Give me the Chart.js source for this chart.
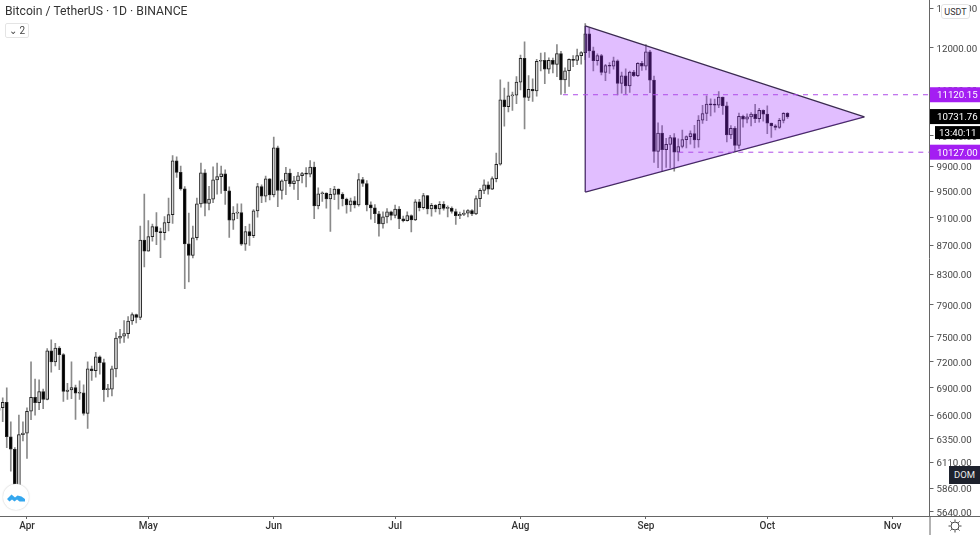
<!DOCTYPE html>
<html>
<head>
<meta charset="utf-8">
<title>Bitcoin / TetherUS</title>
<script src="https://cdn.jsdelivr.net/npm/chart.js@4/dist/chart.umd.min.js"></script>
<style>
  html, body { margin: 0; padding: 0; background: #fff; overflow: hidden; }
  #wrap { position: relative; width: 980px; height: 535px; font-family: Roboto, sans-serif; filter: blur(0.45px); }
  canvas { position: absolute; left: 0; top: 0; }
  .title { position: absolute; left: 5px; top: 3px; font-size: 12.2px; line-height: 17px; color: #333; white-space: nowrap; }
  .badge { position: absolute; left: 5px; top: 23px; width: 24px; height: 15px; box-sizing: border-box; border: 1px solid #e4e4e4; border-radius: 2px; font-size: 10px; line-height: 13px; color: #444; text-align: center; }
  .usdt { position: absolute; left: 941px; top: 4px; width: 29px; height: 15px; box-sizing: border-box; background: #fff; border: 1px solid #e4e4e4; border-radius: 3px; font-size: 9px; line-height: 14px; color: #333; text-align: center; }
  .dom { position: absolute; left: 949px; top: 466px; width: 31px; height: 18px; background: #1e222d; color: #e8e8e8; font-size: 9.5px; line-height: 18px; text-align: center; }
  .logo { position: absolute; left: 3px; top: 484px; width: 26px; height: 26px; border-radius: 50%; background: #fff; box-shadow: 0 0 1.5px #bbb; }
  .gear { position: absolute; left: 948px; top: 519px; }
</style>
</head>
<body>
<div id="wrap">
  <canvas id="chart" width="980" height="535"></canvas>
  <div class="title">Bitcoin / TetherUS · 1D · BINANCE</div>
  <div class="badge">⌄ 2</div>
  <div class="usdt">USDT</div>
  <div class="dom">DOM</div>
  <div class="logo">
    <svg width="26" height="26" viewBox="0 0 26 26"><path d="M4 15 l4.500-4.500 l3.500 3 l2.500-2 l4 1 l3.500 2.500 l0 2.500 H16.500 l-2.500-2 l-2.500 2 l-2.500-2 l-2.500 2 z" fill="#35a7ee"/></svg>
  </div>
  <svg class="gear" width="14" height="14" viewBox="0 0 14 14" fill="none" stroke="#444" stroke-width="1"><circle cx="7" cy="7" r="4"/><path d="M7 0.5v2M7 11.5v2M0.5 7h2M11.5 7h2M2.4 2.4l1.4 1.4M10.2 10.2l1.4 1.4M2.4 11.6l1.4-1.4M10.2 3.8l1.4-1.4"/></svg>
</div>
<script>
// day 0 is 1 Apr, first candle is 25 Mar
const firstDay = -7;

const opens = [
  6650,6680,6738,6372,6244,5880,6394,
  6410,6642,6794,6735,6857,6772,7330,7197,7361,7283,6860,6876,6903,6840,6845,6620,7117,7096,7257,7190,6880,6885,7117,7482,7505,7538,7693,7774,7738,8778,
  8620,8826,8972,8894,8885,9031,9149,9986,9800,9539,8722,8561,8810,9309,9791,9316,9381,9680,9733,9775,9511,9067,9170,9179,8720,8900,8841,9204,9575,9427,9697,
  9448,10200,9518,9666,9789,9621,9666,9746,9781,9772,9885,9280,9465,9474,9386,9454,9538,9455,9384,9295,9358,9294,9685,9624,9296,9249,9162,9012,9116,9192,
  9138,9232,9086,9058,9135,9069,9342,9253,9436,9232,9288,9234,9302,9243,9243,9195,9132,9151,9170,9208,9160,9391,9518,9603,9537,9700,9931,11029,10906,11100,11111,
  11351,11801,11071,11219,11191,11744,11762,11594,11761,11681,11892,11392,11564,11780,11760,11852,11911,12281,11945,11754,11853,11531,11662,11649,11750,11327,11466,11282,11536,11471,11706,
  11650,11924,11388,10140,10446,10167,10256,10373,10126,10222,10336,10387,10440,10332,10671,10785,10954,10939,10933,11080,10920,10417,10529,10241,10736,10686,10728,10774,10696,10841,
  10776,10619,10570,10542,10666,10790
];
const highs = [
  6950,6790,6900,6530,6260,6600,6530,
  6679,7198,7000,6990,6885,7355,7460,7420,7380,7295,6950,7200,6930,6980,6935,7200,7150,7310,7270,7230,6940,7150,7550,7590,7700,7750,7795,7780,8980,9460,
  9060,9010,9180,8950,9120,9400,10070,10050,9900,9575,9170,8980,9400,9950,9845,9580,9890,9950,9900,9840,9570,9270,9310,9310,8975,9010,9225,9625,9605,9740,9700,
  10380,10228,9680,9881,9854,9735,9800,9800,9877,9990,9964,9557,9494,9480,9548,9579,9540,9482,9400,9400,9422,9780,9720,9670,9340,9300,9196,9191,9240,9200,
  9292,9270,9125,9190,9145,9375,9380,9470,9440,9317,9299,9345,9345,9279,9265,9230,9187,9215,9225,9225,9434,9545,9680,9650,9730,10111,11394,11242,11350,11170,11454,
  11861,12123,11473,11414,11780,11900,11909,11808,11806,12065,11935,11617,11792,11850,11980,11930,12486,12400,12020,11888,11878,11686,11718,11824,11773,11539,11599,11558,11570,11720,11740,
  12067,11952,11462,10625,10575,10357,10410,10438,10350,10500,10400,10485,10580,10750,10930,11100,11045,11040,11179,11080,10988,10575,10560,10795,10760,10780,10800,10950,10875,10850,
  10920,10620,10593,10700,10800,10800
];
const lows = [
  6470,6530,6260,6026,5870,5857,6330,
  6150,6551,6600,6660,6670,6765,7080,7150,7108,6750,6770,6780,6555,6770,6600,6460,6985,7020,7055,6750,6800,6810,7025,7420,7430,7480,7650,7670,7710,8400,
  8620,8760,8710,8530,8780,8910,9020,9720,9520,8110,8200,8525,8780,9260,9130,9220,9330,9460,9470,9300,8815,8930,9090,8700,8630,8700,8811,9110,9330,9340,9370,
  9417,9266,9380,9450,9580,9531,9372,9633,9570,9726,9087,9232,9347,9245,8900,9375,9230,9280,9170,9198,9250,9277,9577,9205,9080,9030,8833,8948,9024,9070,
  9100,8940,9040,9050,8893,9058,9203,9231,9160,9125,9190,9157,9215,9113,9170,9005,9088,9131,9116,9131,9147,9267,9466,9459,9527,9650,9917,10565,10812,10840,10960,
  11210,10518,11012,11000,11093,11562,11322,11512,11521,11450,11125,11150,11270,11640,11680,11686,11774,11817,11561,11668,11485,11376,11514,11595,11117,11148,11125,11163,11451,11450,11570,
  11580,11160,9960,9875,9813,9880,9875,9820,9985,10200,10200,10260,10200,10212,10615,10660,10745,10810,10890,10770,10296,10353,10136,10190,10550,10620,10570,10626,10635,10650,
  10437,10374,10500,10525,10622,10700
];
const closes = [
  6680,6738,6372,6244,5880,6394,6410,
  6642,6794,6735,6857,6772,7330,7197,7361,7283,6860,6876,6903,6840,6845,6620,7117,7096,7257,7190,6880,6885,7117,7482,7505,7538,7693,7774,7738,8778,8620,
  8826,8972,8894,8885,9031,9149,9986,9800,9539,8722,8561,8810,9309,9791,9316,9381,9680,9733,9775,9511,9067,9170,9179,8720,8900,8841,9204,9575,9427,9697,9448,
  10200,9518,9666,9789,9621,9666,9746,9781,9772,9885,9280,9465,9474,9386,9454,9538,9455,9384,9295,9358,9294,9685,9624,9296,9249,9162,9012,9116,9192,9138,
  9232,9086,9058,9135,9069,9342,9253,9436,9232,9288,9234,9302,9243,9243,9195,9132,9151,9170,9208,9160,9391,9518,9603,9537,9700,9931,11029,10906,11100,11111,11351,
  11801,11071,11219,11191,11744,11762,11594,11761,11681,11892,11392,11564,11780,11760,11852,11911,12281,11945,11754,11853,11531,11662,11649,11750,11327,11466,11282,11536,11471,11706,11650,
  11924,11388,10140,10446,10167,10256,10373,10126,10222,10336,10387,10440,10332,10671,10785,10954,10939,10933,11080,10920,10417,10529,10241,10736,10686,10728,10774,10696,10841,10776,
  10619,10570,10542,10666,10790,10731.76
];

const priceTicks = [12800,12000,11200,10400,9900,9500,9100,8700,8300,7900,7500,7200,6900,6600,6350,6110,5860,5640];
const monthDays = [0,30,61,91,122,153,183,214];
const monthLabels = ['Apr','May','Jun','Jul','Aug','Sep','Oct','Nov'];

// triangle drawing
const triangleDays = [138, 207];
const triangleUpper = [12438, 10725];
const triangleLower = [9491, 10725];

// horizontal levels
const resistance = 11120.15;
const resistanceFrom = 132.5;
const support = 10127;
const supportFrom = 161;
const lastPrice = 10731.76;
const countdown = '13:40:11';

const days = closes.map((c, i) => firstDay + i);
const bodies = days.map((d, i) => ({ x: d, y: [opens[i], closes[i]] }));
const wicks = days.map((d, i) => ({ x: d, y: [lows[i], highs[i]] }));
const bodyFill = closes.map((c, i) => c >= opens[i] ? '#d8d8d8' : '#000000');

const xMin = -6.67;
const xMax = 223.1;
const yMin = 5600.7;
const yMax = 12975;
const purple = '#a41ef2';

function drawTag(ctx, y, x, w, h, bg, text) {
  ctx.fillStyle = bg;
  ctx.fillRect(x, y - h / 2, w, h);
  ctx.fillStyle = '#fff';
  ctx.font = '9.7px Roboto, sans-serif';
  ctx.textBaseline = 'middle';
  ctx.textAlign = 'left';
  ctx.fillText(text, x === 930 ? 937 : x + 4, y + 1);
}

const priceTags = {
  id: 'priceTags',
  afterDraw(chart) {
    const { ctx, chartArea, scales } = chart;
    ctx.save();
    // axis lines run on to the canvas edges
    ctx.strokeStyle = '#666';
    ctx.lineWidth = 1;
    ctx.beginPath();
    ctx.moveTo(chartArea.right, chartArea.bottom + 0.5);
    ctx.lineTo(980, chartArea.bottom + 0.5);
    ctx.moveTo(chartArea.right + 0.5, chartArea.bottom);
    ctx.lineTo(chartArea.right + 0.5, 535);
    ctx.stroke();
    const y = scales.y;
    drawTag(ctx, y.getPixelForValue(resistance), 930, 50, 15, purple, resistance.toFixed(2));
    drawTag(ctx, y.getPixelForValue(support), 930, 50, 15, purple, support.toFixed(2));
    drawTag(ctx, y.getPixelForValue(lastPrice), 930, 50, 15, '#000', lastPrice.toFixed(2));
    drawTag(ctx, y.getPixelForValue(lastPrice) + 16, 935, 45, 13, '#000', countdown);
    ctx.restore();
  }
};

const levelLine = { type: 'line', order: 0, borderColor: '#ae4be8', borderWidth: 1, borderDash: [5, 5], pointRadius: 0, fill: false };
const triangleLine = { type: 'line', order: 0, borderColor: '#3a2a50', borderWidth: 1.3, pointRadius: 0 };

new Chart(document.getElementById('chart'), {
  type: 'bar',
  data: {
    datasets: [
      { ...levelLine, data: [{ x: resistanceFrom, y: resistance }, { x: xMax, y: resistance }] },
      { ...levelLine, data: [{ x: supportFrom, y: support }, { x: xMax, y: support }] },
      {
        ...triangleLine,
        data: triangleDays.map((d, i) => ({ x: d, y: triangleUpper[i] })),
        fill: '+1',
        backgroundColor: 'rgba(155, 39, 255, 0.3)'
      },
      { ...triangleLine, data: triangleDays.map((d, i) => ({ x: d, y: triangleLower[i] })), fill: false },
      { ...triangleLine, data: [{ x: triangleDays[0], y: triangleUpper[0] }, { x: triangleDays[0], y: triangleLower[0] }], fill: false },
      {
        order: 1,
        data: bodies,
        grouped: false,
        barThickness: 3,
        minBarLength: 1,
        backgroundColor: bodyFill,
        borderColor: '#222',
        borderWidth: 1,
        borderSkipped: false
      },
      {
        order: 2,
        data: wicks,
        grouped: false,
        barThickness: 1,
        backgroundColor: '#8a8a8a',
        borderWidth: 0
      }
    ]
  },
  options: {
    responsive: false,
    animation: false,
    devicePixelRatio: 1,
    layout: { padding: 0 },
    plugins: { legend: { display: false }, tooltip: { enabled: false } },
    scales: {
      x: {
        type: 'linear',
        min: xMin,
        max: xMax,
        offset: false,
        border: { color: '#666' },
        grid: { offset: false, drawOnChartArea: false, tickLength: 3, tickColor: '#666' },
        afterBuildTicks(scale) { scale.ticks = monthDays.map(d => ({ value: d })); },
        afterFit(scale) { scale.height = 19; scale.paddingLeft = 0; scale.paddingRight = 0; },
        ticks: {
          autoSkip: false,
          maxRotation: 0,
          padding: 1,
          color: '#333',
          font: { family: 'Roboto, sans-serif', size: 10, weight: '500' },
          callback: v => monthLabels[monthDays.indexOf(v)]
        }
      },
      y: {
        type: 'logarithmic',
        position: 'right',
        min: yMin,
        max: yMax,
        border: { color: '#666' },
        grid: { drawOnChartArea: false, tickLength: 4, tickColor: '#666' },
        afterBuildTicks(scale) { scale.ticks = priceTicks.map(v => ({ value: v })); },
        afterFit(scale) { scale.width = 50.5; scale.paddingTop = 0; scale.paddingBottom = 0; },
        ticks: {
          autoSkip: false,
          padding: 3,
          labelOffset: 1.5,
          color: '#444',
          font: { family: 'Roboto, sans-serif', size: 9.7 },
          callback: v => v.toFixed(2)
        }
      }
    }
  },
  plugins: [priceTags]
});
</script>
</body>
</html>
